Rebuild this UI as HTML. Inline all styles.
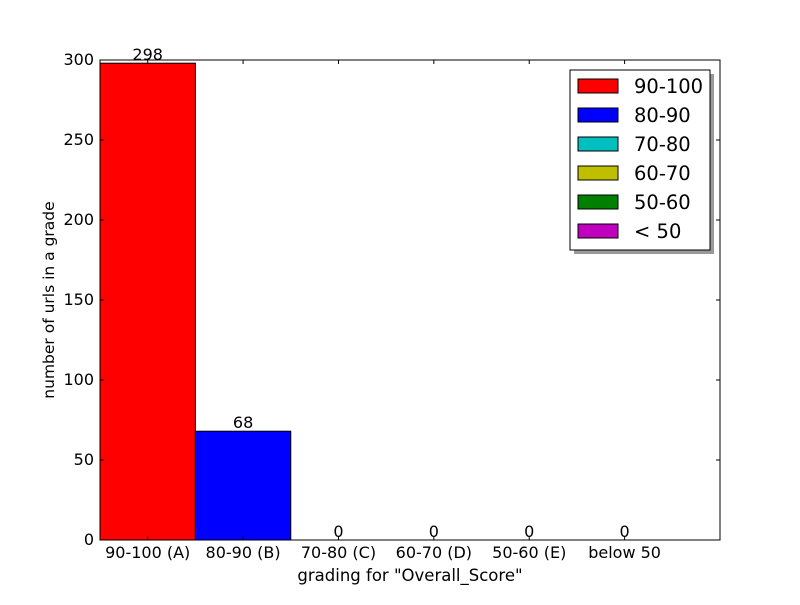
<!DOCTYPE html>
<html><head><meta charset="utf-8"><style>
body{margin:0;background:#fff;}
svg text{font-family:"DejaVu Sans","Liberation Sans",sans-serif;}
</style></head><body>
<svg id="chart" width="800" height="600" xmlns="http://www.w3.org/2000/svg">
<rect width="800" height="600" fill="#fff"/>
<g id="plot"></g>
</svg>
<script>
const categories=["90-100 (A)","80-90 (B)","70-80 (C)","60-70 (D)","50-60 (E)","below 50"];
const values=[298,68,0,0,0,0];
const legendLabels=["90-100","80-90","70-80","60-70","50-60","< 50"];
const colors=["#ff0000","#0000ff","#00bfbf","#bfbf00","#008000","#bf00bf"];
const yTicks=[0,50,100,150,200,250,300];
const L=100,R=720,T=60,B=540,xMax=6.5,yMax=300;
const xs=v=>L+(v/xMax)*(R-L);
const ys=v=>B-(v/yMax)*(B-T);
const NS="http://www.w3.org/2000/svg";
const g=document.getElementById('plot');
function mk(t,a,txt){const e=document.createElementNS(NS,t);for(const k in a)e.setAttribute(k,a[k]);if(txt!==undefined)e.textContent=txt;g.appendChild(e);return e;}
values.forEach((v,i)=>{
 const r=mk('rect',{x:xs(i),y:ys(v),width:xs(i+1)-xs(i),height:B-ys(v),fill:colors[i],stroke:'#000','stroke-width':1});
 
 
 const t=mk('text',{x:xs(i+0.5),y:ys(v)-3,'text-anchor':'middle','font-size':16},String(v));
 
 
 const tl=mk('text',{x:xs(i+0.5),y:B+18,'text-anchor':'middle','font-size':16},categories[i]);
 
 
 mk('line',{x1:xs(i+0.5),x2:xs(i+0.5),y1:B,y2:B-4,stroke:'#000'});
 mk('line',{x1:xs(i+0.5),x2:xs(i+0.5),y1:T,y2:T+4,stroke:'#000'});
});
yTicks.forEach(v=>{
 mk('line',{x1:L,x2:L+4,y1:ys(v),y2:ys(v),stroke:'#000'});
 mk('line',{x1:R,x2:R-4,y1:ys(v),y2:ys(v),stroke:'#000'});
 const t=mk('text',{x:L-6,y:ys(v)+5,'text-anchor':'end','font-size':16},String(v));
 
 
});
const fr=mk('rect',{x:L,y:T,width:R-L,height:B-T,fill:'none',stroke:'#000'});


const xt=mk('text',{x:410,y:581,'text-anchor':'middle','font-size':16.5},'grading for "Overall_Score"');


const yt=mk('text',{x:54,y:300,'text-anchor':'middle','font-size':15.5,transform:'rotate(-90 54 300)'},'number of urls in a grade');


mk('rect',{x:574,y:74,width:140,height:180,fill:'#999'});
const lg=mk('rect',{x:570,y:70,width:140,height:180,fill:'#fff',stroke:'#000'});


legendLabels.forEach((lab,i)=>{
 const y=79+i*29;
 mk('rect',{x:578,y:y,width:40,height:14,fill:colors[i],stroke:'#000'});
 const t=mk('text',{x:634,y:y+14,'font-size':19.5},lab);
 
 
});
</script>
</body></html>
